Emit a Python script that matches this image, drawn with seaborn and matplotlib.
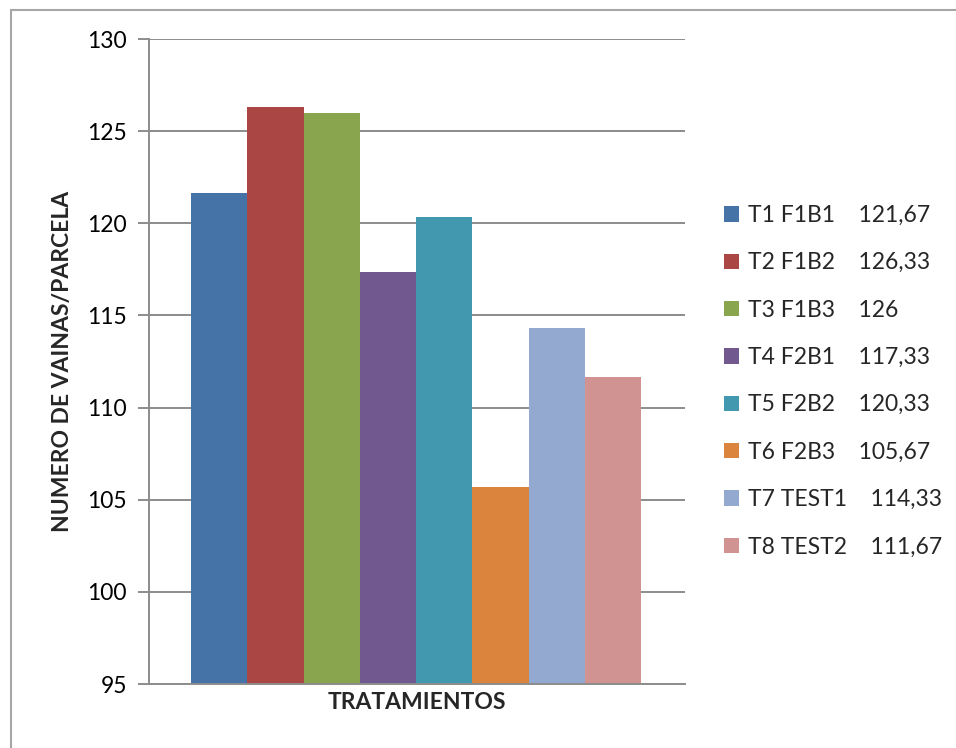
import matplotlib
matplotlib.use("Agg")
import matplotlib.pyplot as plt
import seaborn as sns
import pandas as pd
from matplotlib.lines import Line2D

# Treatments, mean pods per plot and the printed value labels
tratamientos = ["T1 F1B1", "T2 F1B2", "T3 F1B3", "T4 F2B1",
                "T5 F2B2", "T6 F2B3", "T7 TEST1", "T8 TEST2"]
vainas = [121.67, 126.33, 126.0, 117.33, 120.33, 105.67, 114.33, 111.67]
valores_txt = ["121,67", "126,33", "126", "117,33",
               "120,33", "105,67", "114,33", "111,67"]
colores = ["#4572A7", "#AA4643", "#89A54E", "#71588F",
           "#4198AF", "#DB843D", "#93A9CF", "#D19392"]
y_ticks = [95, 100, 105, 110, 115, 120, 125, 130]

sns.set_theme(style="white")
plt.rcParams["font.family"] = ["Lato", "DejaVu Sans"]

df = pd.DataFrame({"tratamiento": tratamientos, "vainas": vainas})

fig = plt.figure(figsize=(9.56, 7.48), dpi=100)
ax = fig.add_axes([149 / 956, 64 / 748, 536 / 956, 645 / 748])

sns.barplot(data=df, x="tratamiento", y="vainas", hue="tratamiento",
            palette=colores, width=1.0, saturation=1, legend=False,
            linewidth=0, ax=ax)

grid_c = "#8C8C8C"
ax.set_ylim(95, 130)
ax.set_yticks(y_ticks)
ax.set_xlim(-1.247, 8.282)
ax.set_xticks([])
ax.yaxis.grid(True, color=grid_c, linewidth=1.4)
ax.set_axisbelow(True)
for side in ("top", "right"):
    ax.spines[side].set_visible(False)
for side in ("left", "bottom"):
    ax.spines[side].set_color(grid_c)
    ax.spines[side].set_linewidth(1.4)
ax.tick_params(axis="y", left=True, length=8, width=1.4, color=grid_c,
               labelsize=16.5, pad=8, labelcolor="black")

ax.set_xlabel("TRATAMIENTOS", fontsize=16.5, fontweight="bold", labelpad=6)
ax.set_ylabel("NUMERO DE VAINAS/PARCELA", fontsize=16.5, fontweight="bold",
              labelpad=10)

etiquetas = [f"{t}    {v}" for t, v in zip(tratamientos, valores_txt)]
ax.legend(ax.patches[:len(tratamientos)], etiquetas, loc="upper left",
          bbox_to_anchor=(1.055, 0.757), frameon=False, fontsize=16.5,
          handlelength=0.65, handleheight=0.65, handletextpad=0.4,
          labelspacing=1.15, borderaxespad=0)

# thin outer frame of the chart area
border_c = "#A6A6A6"
fig.add_artist(Line2D([10.5 / 956, 10.5 / 956], [0, 1 - 9.5 / 748],
                      transform=fig.transFigure, color=border_c, linewidth=1.5))
fig.add_artist(Line2D([10.5 / 956, 1], [1 - 9.5 / 748, 1 - 9.5 / 748],
                      transform=fig.transFigure, color=border_c, linewidth=1.5))

fig.savefig("out.png", dpi=100, facecolor="white")
